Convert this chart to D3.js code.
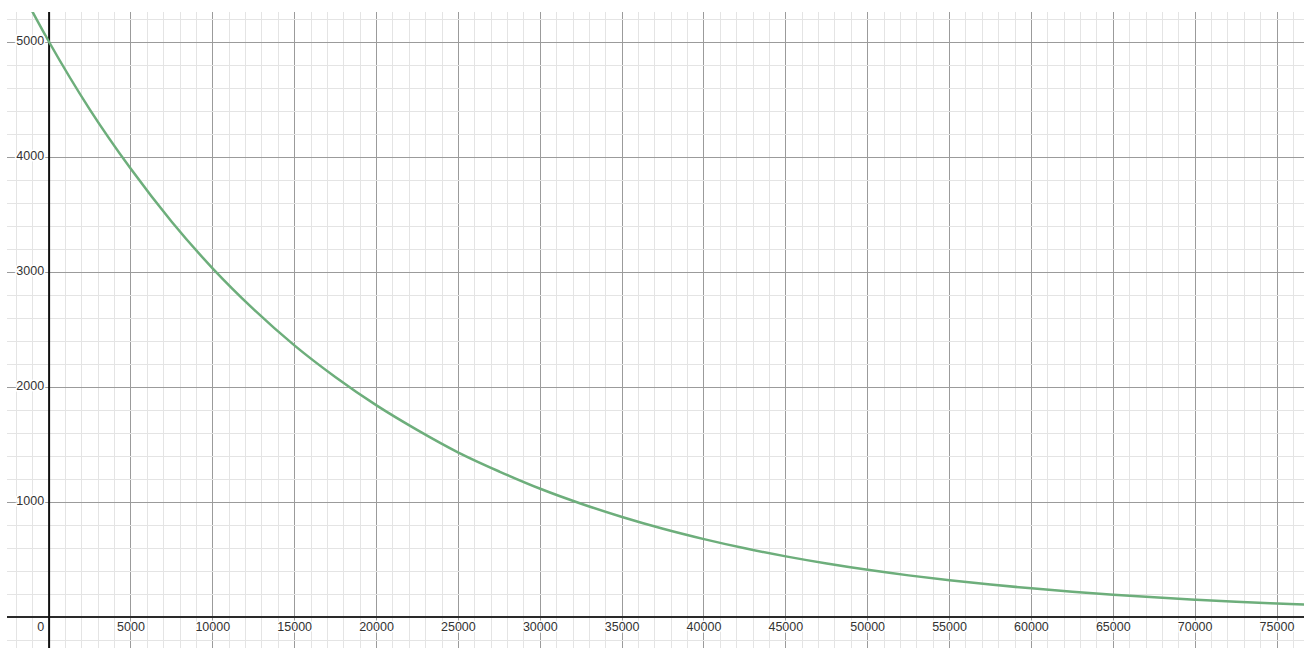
<!DOCTYPE html>
<html>
<head>
<meta charset="utf-8">
<script src="https://cdn.jsdelivr.net/npm/d3@7"></script>
<style>
  html, body { margin: 0; padding: 0; background: #fff; }
  svg { display: block; }
</style>
</head>
<body>
<div id="chart"></div>
<script>
// curve (x, y)
const xValues = [-2000, 0, 2500, 5000, 7500, 10000, 12500, 15000, 17500, 20000,
  22500, 25000, 27500, 30000, 32500, 35000, 37500, 40000, 42500, 45000,
  47500, 50000, 52500, 55000, 57500, 60000, 62500, 65000, 67500, 70000,
  72500, 75000, 76700];
const yValues = [5525, 5000, 4410, 3895, 3435, 3030, 2675, 2360, 2085, 1840,
  1625, 1430, 1265, 1115, 985, 870, 767, 677, 597, 527,
  465, 410, 362, 320, 282, 249, 220, 194, 171, 151,
  133, 118, 108];

const xTickValues = [5000, 10000, 15000, 20000, 25000, 30000, 35000, 40000,
  45000, 50000, 55000, 60000, 65000, 70000, 75000];
const yTickValues = [1000, 2000, 3000, 4000, 5000];

const W = 1311, H = 648;
const plotL = 7, plotR = 1304, plotT = 12, plotB = 648;

// 0 sits at px 49 horizontally, px 617 vertically
const x = d3.scaleLinear().domain([0, 75000]).range([49.1, 1277]);
const y = d3.scaleLinear().domain([0, 5000]).range([617, 42]);

const xMin = x.invert(plotL), xMax = x.invert(plotR);
const yMin = y.invert(plotB), yMax = y.invert(plotT);

const svg = d3.select("#chart").append("svg")
  .attr("width", W)
  .attr("height", H);

svg.append("defs").append("clipPath").attr("id", "plot")
  .append("rect")
  .attr("x", plotL).attr("y", plotT)
  .attr("width", plotR - plotL).attr("height", plotB - plotT);

const grid = svg.append("g").attr("clip-path", "url(#plot)");

const minorX = d3.range(Math.ceil(xMin / 1000) * 1000, xMax, 1000);
const minorY = d3.range(Math.ceil(yMin / 200) * 200, yMax, 200);

grid.selectAll(".vx").data(minorX).enter().append("line")
  .attr("x1", d => x(d)).attr("x2", d => x(d))
  .attr("y1", plotT).attr("y2", plotB)
  .attr("stroke", d => d % 5000 === 0 ? "#9b9b9b" : "#e4e4e4")
  .attr("stroke-width", 1)
  .attr("shape-rendering", "crispEdges");

grid.selectAll(".hy").data(minorY).enter().append("line")
  .attr("y1", d => y(d)).attr("y2", d => y(d))
  .attr("x1", plotL).attr("x2", plotR)
  .attr("stroke", d => Math.round(d) % 1000 === 0 ? "#9b9b9b" : "#e4e4e4")
  .attr("stroke-width", 1)
  .attr("shape-rendering", "crispEdges");

// axes
grid.append("line")
  .attr("x1", plotL).attr("x2", plotR)
  .attr("y1", y(0)).attr("y2", y(0))
  .attr("stroke", "#2a2a2a").attr("stroke-width", 2);
grid.append("line")
  .attr("x1", x(0)).attr("x2", x(0))
  .attr("y1", plotT).attr("y2", plotB)
  .attr("stroke", "#111").attr("stroke-width", 2);

// curve
const pts = xValues.map((v, i) => ({ x: v, y: yValues[i] }));
const line = d3.line()
  .x(d => x(d.x))
  .y(d => y(d.y))
  .curve(d3.curveMonotoneX);

grid.append("path")
  .datum(pts)
  .attr("fill", "none")
  .attr("stroke", "#6dae7b")
  .attr("stroke-width", 2.5)
  .attr("d", line);

// labels
const labels = svg.append("g")
  .style("font-family", "'Liberation Sans', Arial, sans-serif")
  .style("font-size", "12.5px")
  .attr("fill", "#333");

labels.selectAll(".xl").data(xTickValues).enter().append("text")
  .attr("x", d => x(d))
  .attr("y", y(0) + 11)
  .attr("text-anchor", "middle")
  .attr("dominant-baseline", "middle")
  .attr("stroke", "#fff").attr("stroke-width", 3)
  .attr("paint-order", "stroke")
  .text(d => d);

labels.selectAll(".yl").data(yTickValues).enter().append("text")
  .attr("x", x(0) - 5)
  .attr("y", d => y(d))
  .attr("text-anchor", "end")
  .attr("dominant-baseline", "middle")
  .attr("stroke", "#fff").attr("stroke-width", 3)
  .attr("paint-order", "stroke")
  .text(d => d);

labels.append("text")
  .attr("x", x(0) - 5)
  .attr("y", y(0) + 11)
  .attr("text-anchor", "end")
  .attr("dominant-baseline", "middle")
  .attr("stroke", "#fff").attr("stroke-width", 3)
  .attr("paint-order", "stroke")
  .text("0");
</script>
</body>
</html>
